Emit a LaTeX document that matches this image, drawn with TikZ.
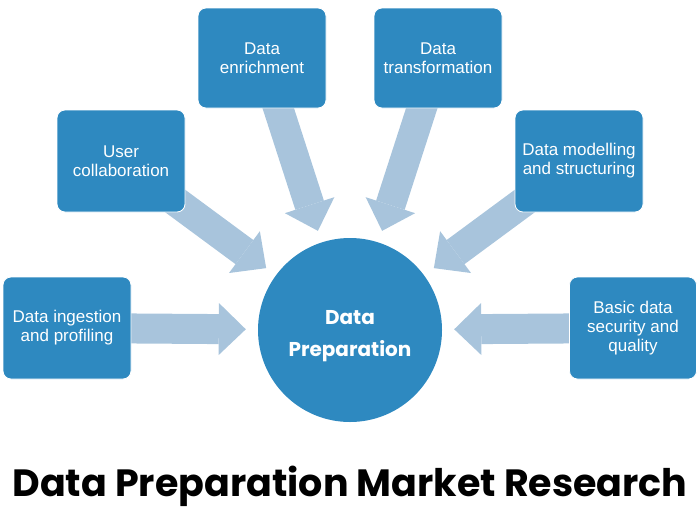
\documentclass[tikz,border=0pt]{standalone}
\usepackage{fontspec}
\setmainfont{Liberation Sans}
\newfontfamily\popfont{Poppins}
\usetikzlibrary{arrows.meta,backgrounds}
\definecolor{boxblue}{HTML}{2E89C0}
\definecolor{arrowblue}{HTML}{A8C4DC}
\begin{document}
\begin{tikzpicture}[x=1pt,y=-1pt,
  stepbox/.style={rectangle,rounded corners=8pt,fill=boxblue,draw=white,line width=0.8pt,
    minimum width=128pt,minimum height=102pt,text=white,align=center,inner sep=0pt,
    font=\fontsize{17}{19}\selectfont},
  hub/.style={circle,fill=boxblue,minimum size=184pt,inner sep=0pt},
  hubtext/.style={text=white,align=center,inner sep=0pt,
    font=\popfont\bfseries\fontsize{20}{32}\selectfont},
  flow/.style={draw=arrowblue,line width=30pt,
    -{Triangle[width=52pt,length=27pt,line width=0pt]},shorten >=12pt}]
\useasboundingbox (0,0) rectangle (700,525);

% centre
\node[hub] (prep) at (350,330) {};
\node[hubtext] (preptext) at (350,336) {Data\\Preparation};

% the six steps
\node[stepbox] (ing) at (67,328) {Data ingestion\\and profiling};
\node[stepbox] (usr) at (121,161) {User\\collaboration};
\node[stepbox,minimum height=100pt] (enr) at (262,58) {Data\\enrichment};
\node[stepbox,minimum height=100pt] (trf) at (438,58) {Data\\transformation};
\node[stepbox] (mod) at (579,161) {Data modelling\\and structuring};
\node[stepbox,minimum width=127pt] (sec) at (633,328) {Basic data\\security and\\quality};

% arrows into the centre
\begin{pgfonlayer}{background}
\foreach \s in {ing,usr,enr,trf,mod,sec}
\draw[flow] (\s.center) -- (prep);
\end{pgfonlayer}

\node[font=\popfont\bfseries\fontsize{38}{40}\selectfont,anchor=base] (title) at (350,496)
  {Data Preparation Market Research};
\end{tikzpicture}
\end{document}
